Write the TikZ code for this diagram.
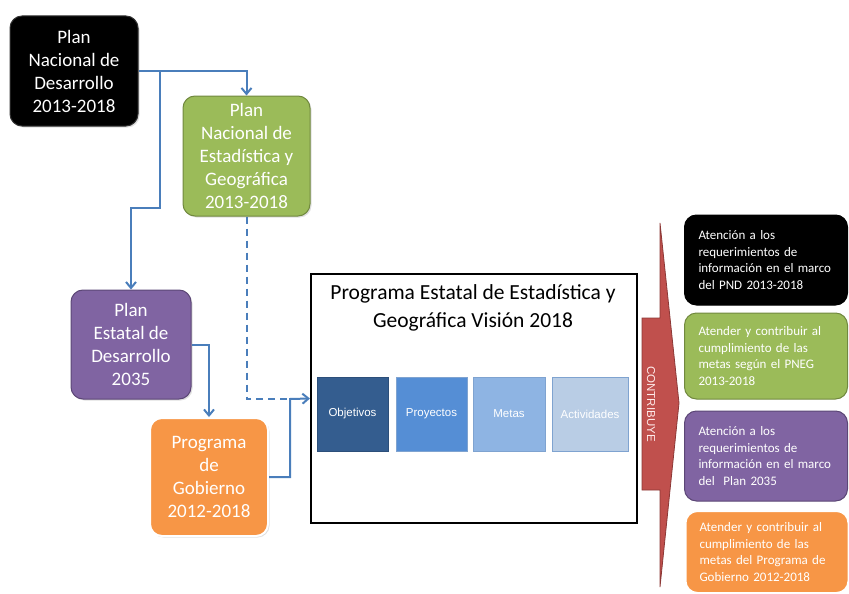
\documentclass[tikz,border=0pt]{standalone}
\usepackage{fontspec}
\setmainfont{Carlito}
\newfontfamily\arialf{Liberation Sans}
\usetikzlibrary{arrows.meta,shadows}
\definecolor{blueln}{HTML}{4A7EBB}
\definecolor{grnf}{HTML}{9BBB59}
\definecolor{grnd}{HTML}{71893F}
\definecolor{purf}{HTML}{8064A2}
\definecolor{purd}{HTML}{5C4776}
\definecolor{orgf}{HTML}{F79646}
\definecolor{redf}{HTML}{C0504D}
\definecolor{redd}{HTML}{8C3836}
\definecolor{bA}{HTML}{345D8F}
\definecolor{bB}{HTML}{558ED5}
\definecolor{bC}{HTML}{8EB4E3}
\definecolor{bD}{HTML}{B9CDE5}
\definecolor{bBd}{HTML}{7FA3D0}
\begin{document}
\begin{tikzpicture}[x=1pt,y=-1pt,
  lbox/.style={rounded corners=12pt, align=center, text=white, inner sep=0pt,
    font=\fontsize{19}{23}\selectfont, line width=1pt,
    drop shadow={shadow xshift=1.5pt,shadow yshift=-1.5pt,opacity=0.25}},
  rbox/.style={rounded corners=12pt, align=left, text=white, inner sep=0pt,
    text width=135pt, inner xsep=14pt, minimum height=#1,
    font=\fontsize{13}{16.5}\selectfont, line width=1pt},
  ibox/.style={minimum height=74pt, inner sep=0pt, text=white,
    font=\arialf\fontsize{11.5}{13}\selectfont, line width=0.8pt,
    drop shadow={shadow xshift=1pt,shadow yshift=-1pt,opacity=0.3}},
  arr/.style={draw=blueln, line width=2pt, -{Straight Barb[length=6pt,width=10pt]}},
  conn/.style={draw=blueln, line width=2pt},
]
\useasboundingbox (0,0) rectangle (849,594);

% left boxes
\node[lbox, fill=black, draw=black!80, minimum width=128pt, minimum height=110pt] (pnd) at (74,71)
  {Plan\\Nacional de\\Desarrollo\\2013-2018};
\node[lbox, fill=grnf, draw=grnd, minimum width=127pt, minimum height=120pt] (pne) at (246.5,156)
  {Plan\\Nacional de\\Estadística y\\Geográfica\\2013-2018};
\node[lbox, fill=purf, draw=purd, minimum width=120pt, minimum height=109pt] (ped) at (131,344.5)
  {Plan\\Estatal de\\Desarrollo\\2035};
\node[lbox, fill=orgf, draw=white, line width=2pt, minimum width=118pt, minimum height=118pt] (pgo) at (209,477)
  {Programa\\de\\Gobierno\\2012-2018};

% main box
\node[draw=black, line width=2pt, fill=white, minimum width=326pt, minimum height=249pt, inner sep=0pt] (main) at (474,398.5) {};
\node[font=\fontsize{21.5}{28}\selectfont, align=center, inner sep=0pt] (title) at (473,307.5)
  {Programa Estatal de Estadística y\\Geográfica Visión 2018};
\node[ibox, fill=bA, draw=bA!85!black, minimum width=71pt] (obj) at (352.5,414) {Objetivos};
\node[ibox, fill=bB, draw=bBd, minimum width=71pt] (pro) at (431.5,414) {Proyectos};
\node[ibox, fill=bC, draw=bBd, minimum width=72pt] (met) at (509,414) {Metas};
\node[ibox, fill=bD, draw=bBd, minimum width=76pt] (act) at (590,414) {Actividades};

% connectors
\coordinate (j1) at (160,71);
\coordinate (j2) at (290,399);
\draw[arr] (pnd.east) -| (pne.north);
\draw[arr] (j1) -- (160,208) -| (ped.north);
\draw[arr] (ped.east) -| (pgo.north);
\draw[conn, dash pattern=on 7pt off 5pt] (pne.south) |- (j2);
\draw[arr] (pgo.east) -| (j2) -- (main.west);

% red arrow
\draw[fill=redf, draw=redd, line width=0.8pt, line join=miter]
  (642,318) -- (660,318) -- (660,223) -- (679,403) -- (660,587) -- (660,490) -- (642,490) -- cycle;
\node[rotate=-90, text=white!92!red, font=\arialf\fontsize{11.5}{13}\selectfont, inner sep=0pt] (contrib) at (651,404) {CONTRIBUYE};

% right boxes
\node[rbox=90pt, fill=black, draw=black] (r1) at (766,260)
  {Atención a los\\requerimientos de\\información en el marco\\del PND 2013-2018};
\node[rbox=86pt, fill=grnf, draw=grnd] (r2) at (766,356)
  {Atender y contribuir al\\cumplimiento de las\\metas según el PNEG\\2013-2018};
\node[rbox=90pt, fill=purf, draw=purd] (r3) at (766,456)
  {Atención a los\\requerimientos de\\información en el marco\\del\ \ Plan 2035};
\node[rbox=82pt, fill=orgf, draw=white, line width=2pt] (r4) at (767,552)
  {Atender y contribuir al\\cumplimiento de las\\metas del Programa de\\Gobierno 2012-2018};
\end{tikzpicture}
\end{document}
